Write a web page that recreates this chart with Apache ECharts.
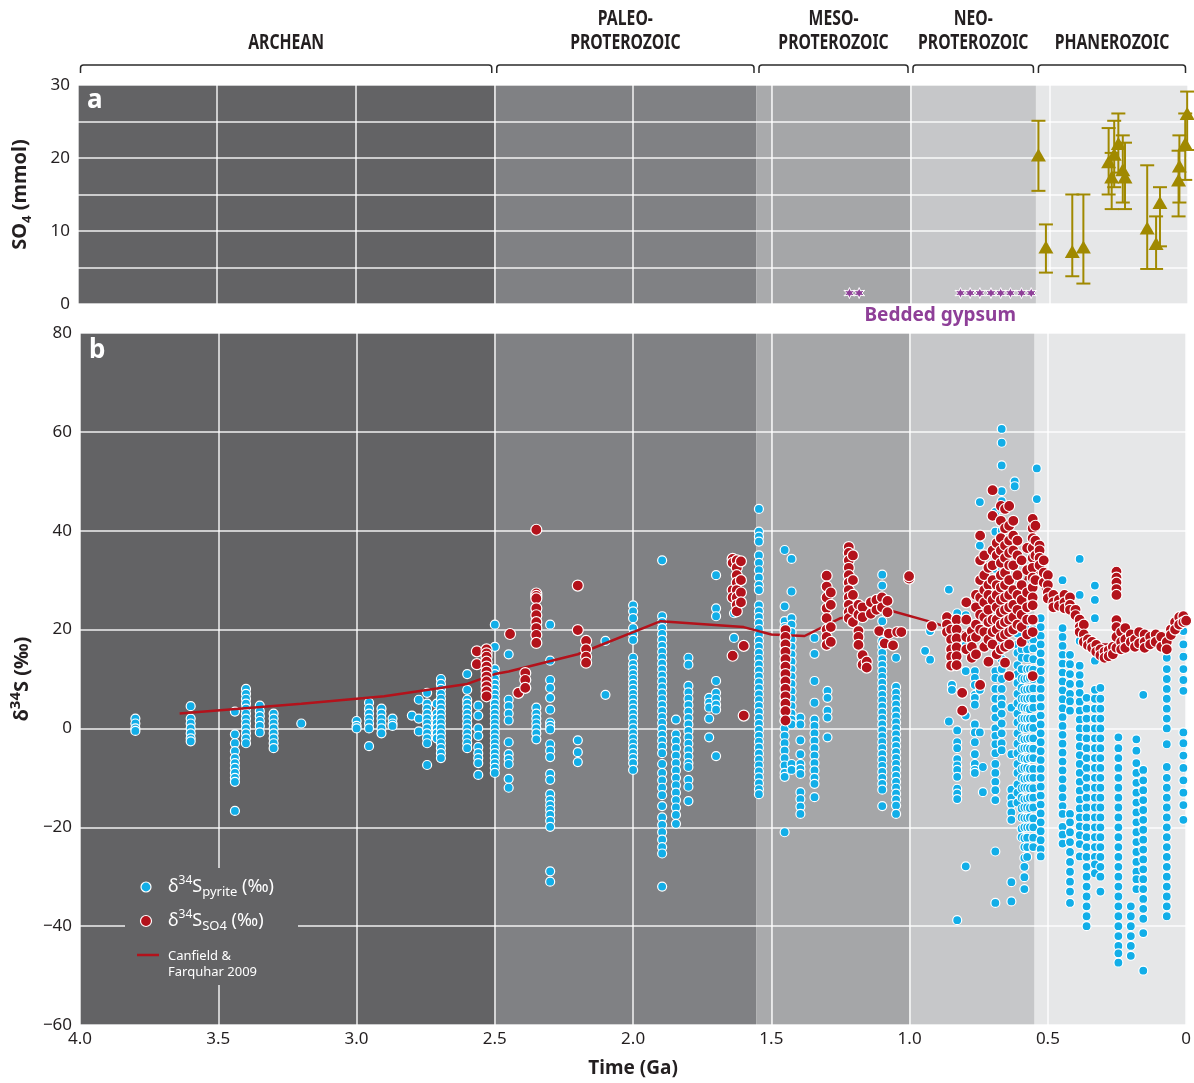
<!DOCTYPE html>
<html>
<head>
<meta charset="utf-8">
<script src="https://cdn.jsdelivr.net/npm/echarts@6/dist/echarts.min.js"></script>
<style>
html,body{margin:0;padding:0;background:#fff}
#chart{width:1194px;height:1083px}
</style>
</head>
<body>
<div id="chart"></div>
<script>
// era bands (Ga) and the brackets on top
var bandStart = [4.0, 2.5, 1.555, 1.5, 1.0, 0.548];
var bandEnd   = [2.5, 1.555, 1.5, 1.0, 0.548, 0];
var bandColors = ['#636365', '#808184', '#a9aaac', '#a5a6a8', '#c6c7c9', '#e6e7e8'];
var eraNames = ['ARCHEAN', 'PALEO-\nPROTEROZOIC', 'MESO-\nPROTEROZOIC', 'NEO-\nPROTEROZOIC', 'PHANEROZOIC'];
var eraStart = [4.0, 2.5, 1.555, 1.0, 0.548];
var eraEnd   = [2.5, 1.555, 1.0, 0.548, 0];

// panel a: seawater sulfate (mmol) with error bars
var so4Age  = [0.539, 0.512, 0.417, 0.377, 0.286, 0.275, 0.266, 0.251, 0.235, 0.227, 0.147, 0.115, 0.101, 0.034, 0.031, 0.010, 0.003];
var so4Mean = [20.4, 7.8, 7.2, 7.8, 19.5, 17.4, 20.5, 22.0, 18.4, 17.4, 10.4, 8.3, 13.9, 17.0, 18.9, 22.0, 26.1];
var so4Low  = [15.5, 4.3, 3.8, 2.8, 15.0, 13.0, 16.0, 18.0, 13.9, 13.0, 4.8, 4.8, 7.9, 12.0, 13.9, 17.0, 21.1];
var so4High = [25.1, 10.9, 15.0, 15.0, 24.1, 20.7, 25.1, 26.1, 23.1, 22.1, 19.0, 12.0, 16.0, 21.0, 23.1, 26.1, 29.1];

// bedded gypsum occurrences (Ga)
var gypsumAge = [1.22, 1.185, 0.82, 0.785, 0.75, 0.71, 0.675, 0.64, 0.60, 0.565];

// panel b: d34S pyrite, columns of [age, values...]
var pyriteCols = [
  [3.80, 2, 1, 0, -0.5],
  [3.60, 4.5, 2, 1, 0, -1, -2, -2.6],
  [3.44, 3.4, -1.2, -3, -4.6, -6, -7, -8, -9, -10, -10.8, -16.7],
  [3.40, 8, 7, 6, 5, 4, 3, 2, 1, 0, -1, -2, -3],
  [3.35, 4.6, 3.5, 2.5, 1.5, 0.5, -0.8],
  [3.30, 3, 2, 1, 0, -1, -2, -3, -4],
  [3.20, 1],
  [3.00, 1.5, 0.5, 0],
  [2.955, 5.2, 4, 3, 2, 1, 0, -3.6],
  [2.91, 4, 3, 2, 1, 0, -1],
  [2.87, 2, 1, 0.5],
  [2.80, 2.6],
  [2.775, 5.8, 2, -0.6],
  [2.745, 7.2, 5, 4, 3, 2, 1, 0, -1, -2, -3, -7.4],
  [2.71, 5, 3, 2, 1, 0, -1, -2],
  [2.695, 10, 9, 8, 7, 6, 5, 4, 3, 2, 1, 0, -1, -2, -3, -4, -5, -6],
  [2.60, 11, 7.8, 5.8, 5, 4, 3, 2, 1, 0, -1, -2, -3, -4],
  [2.56, 4.6, 2.6, 0, -1.5, -3.8, -5, -6, -7, -9.4],
  [2.50, 21, 16.5, 12, 11, 10, 9, 8, 7, 6, 5, 4, 3, 2, 1, 0, -1, -2, -3, -4, -5, -6, -7, -8, -9],
  [2.45, 15, 5.8, 4.5, 3, 1.6, -2.8, -5.2, -6.2, -7.2, -10.2, -12],
  [2.35, 4.2, 3, 2, 1, 0, -1, -2.2],
  [2.30, 21, 13.7, 9.8, 8.2, 6.2, 3.8, 1.2, 0.5, -0.2, -3.2, -4.5, -5.8, -9.2, -10.4, -13.3, -14.5, -15.5, -16.5, -17.5, -18.7, -19.9, -28.9, -31],
  [2.20, -2.4, -4.8, -6.8],
  [2.10, 17.7, 6.8],
  [2.00, 24.9, 23.7, 22.3, 20.3, 19, 17.9, 14.3, 13, 12, 11, 10, 9, 8, 7, 6, 5, 4, 3, 2, 1, 0, -1, -2, -3, -4, -5, -6, -7, -8.4],
  [1.895, 34, 22.7, 21.5, 20.3, 19.1, 17.9, 16.7, 15.5, 14.3, 13.1, 11.9, 10.7, 9.5, 8.3, 7.1, 5.9, 4.7, 3.5, 2.3, 1.1, -0.1, -1.3, -2.5, -3.7, -5, -7.2, -9, -10.5, -12, -13.5, -15.7, -18, -19.5, -21, -22.5, -24, -25.3, -32],
  [1.845, 1.8, -1.2, -2.5, -4, -5.5, -7, -8.5, -10, -11.5, -13, -14.5, -16, -17.5, -19.3],
  [1.80, 14.3, 12.9, 8.6, 7.3, 6, 4.7, 3.4, 2.1, 0.8, -0.5, -1.8, -3.1, -4.4, -5.7, -7, -7.8, -10.4, -11.8, -14.7],
  [1.725, 6.2, 5.2, 4.2, 2, -1.8],
  [1.70, 31, 24.3, 22.7, 9.6, 7.2, 6, 4.8, 3.8, -5.6],
  [1.635, 23.3, 18.3],
  [1.545, 44.4, 39.8, 38.8, 37.8, 35, 33.5, 32, 30.5, 29, 28, 24.9, 23.7, 22.5, 21.3, 20.1, 18.9, 17.7, 16.5, 15.3, 14.1, 12.9, 11.7, 10.5, 9.3, 8.1, 6.9, 5.7, 4.5, 3.3, 2.1, 0.9, -0.3, -1.5, -2.7, -3.9, -5.1, -6.3, -7.5, -8.7, -9.9, -11.1, -12.3, -13.3],
  [1.452, 36.1, 24.7, 21.7, 20.5, 19.3, 18, 16.5, 15, 13.5, 12, 10.5, 9, 7.5, 6, 4.5, 3, 1.5, 0, -1.5, -3, -4.5, -6, -7.5, -9, -9.8, -21],
  [1.427, 34.3, 27.7, 22.3, 21, 19.5, 18, 16.5, 15, 13.5, 12, 10.5, 9, 7.5, 6, 4.5, 3, 1.8, 0.8, -7.2, -8.4],
  [1.395, 2.2, 0.8, -2.4, -5.2, -7.2, -8.2, -9.2, -12.9, -14.3, -15.8, -17.3],
  [1.344, 18.3, 15.1, 9.6, 5.2, 1.8, 0.5, -1, -2.5, -4, -5.5, -7, -8.5, -10, -11.2, -13.9],
  [1.297, 7.6, 6.2, 3.6, 2.2, -1.8],
  [1.099, 31.1, 28.9, 21.7, 17.7, 16.5, 15.3, 14, 12.8, 11.6, 10.4, 9.2, 8, 6.8, 5.6, 4.4, 3.2, 2, 0.8, -0.4, -1.6, -2.8, -4, -5.2, -6.4, -7.6, -8.8, -10, -11.2, -12.4, -15.7],
  [1.049, 14.3, 8.4, 7.2, 6, 4.8, 3.6, 2.4, 1.2, 0, -1.2, -2.4, -3.6, -4.8, -6, -7.2, -8.4, -9.6, -10.8, -12, -13.2, -14.4, -15.6, -17.3],
  [0.944, 15.7],
  [0.926, 19.7, 13.9],
  [0.858, 28.1, 1.4],
  [0.847, 8.8, 7.8],
  [0.828, 23.3, -0.4, -2.8, -4, -6.2, -7.5, -8.4, -9.8, -12.2, -13.2, -14.3, -38.8],
  [0.797, 22.9, 16.9, 11.6, 2.6, -27.9],
  [0.764, 11.6, 10.2, 8.8, 6.8, 6.2, 4.8, 0.8, -0.8, -2.8, -5.2, -7.2, -8.4, -9],
  [0.746, 45.8, 37, 8.8, 7.8, -0.8],
  [0.735, -7.8, -12.9],
  [0.69, 43.8, 39.8, 34.3, 32.3, 30.3, 11.6, 10.2, 8, 6, 4, 2.2, 0, -1.5, -3.2, -5, -7.2, -9, -10.8, -12.5, -14.5, -24.9, -35.3],
  [0.667, 60.6, 57.8, 53.2, 48, 46, 44.4, 40, 38, 36, 34, 32.3, 20, 17, 14, 12, 10, 8, 6, 4.8, 3, 1, -1, -3, -4.4],
  [0.632, 4.2, -5.2, -12.4, -14, -15.3, -17, -18.5, -31.1, -35],
  [0.62, 50, 49],
  [0.61, 21, 19.2, 17, 15.3, 12.8, 11, 9.2, 7, 5.1, 3, 1.2, -1, -3.1, -5, -7.2, -9, -11.3, -13, -15],
  [0.595, 16, 14.3, 12, 10.1, 8.2, 6, 4.3, 2, 0.2, -2, -4.1, -6, -8.2, -10, -12.1, -14, -16.2, -18, -20.3, -22],
  [0.585, 10, 7.8, 6, 4.2, 2, 0.1, -2.2, -4, -6.1, -8, -10.2, -12, -14.3, -16, -18.1, -20, -22.2, -24, -26.2, -28, -30.1, -32.5],
  [0.575, 20, 18.1, 16, 14.2, 12, 10.1, 7.9, 6, 4.1, 2, 0, -2.1, -4, -6.2, -8, -10.1, -12, -14.2, -16, -18.1, -20, -22.1, -24, -26],
  [0.565, 12, 10.2, 8, 6.1, 3.9, 2, 0.2, -2, -4.1, -6, -8.2, -10, -12.1, -14, -16.1, -18, -20],
  [0.553, 22, 20.1, 18, 16.2, 14, 11.9, 10, 8.1, 6, 4.2, 2, 0.1, -2, -4.1, -6, -8.2, -10, -12.1, -14, -16, -18.2, -20, -22.1, -24],
  [0.54, 52.6, 46.4],
  [0.526, 22.3, 20.5, 18.7, 17, 15.2, 13.4, 11.6, 9.8, 8, 6.2, 4.4, 2.6, 0.8, -1, -2.8, -4.6, -6.4, -8.2, -10, -11.8, -13.6, -15.4, -17.2, -19, -20.8, -22.6, -24.4, -25.9],
  [0.447, 30, 20.3, 18.5, 16.7, 14.9, 13.1, 11.3, 9.5, 7.7, 5.9, 4.1, 2.3, 0.5, -1.3, -3.1, -4.9, -6.7, -8.5, -10.3, -12.1, -13.9, -15.7, -17.3, -19.9, -21.5, -23.3],
  [0.42, 14.9, 13, 11, 9, 7, 5.5, 3.6, -17.3, -19, -21, -23, -25, -27, -29, -31, -33, -35.3],
  [0.385, 34.3, 27, 17.7, 12.7, 10.8, 9, 7.2, 5.4, 3.6, 1.8, 0, -1.8, -3.6, -5.4, -7.2, -9, -10.8, -12.6, -14.4, -16.2, -18, -19.8, -21.6, -23.4, -25.9],
  [0.36, 6.2, 4, 2, 0, -2, -4, -6, -8, -10, -12, -14, -16, -18, -20, -22, -24, -26, -28, -30, -32, -34, -36, -38, -40],
  [0.33, 28.9, 26, 22.3, 13.7, 7.8, 6, 4, 2, 0, -2, -4, -6, -8, -10, -12, -14, -16, -18, -20, -22, -24, -26, -27.5, -29.3],
  [0.31, 8.2, 6, 4, 2, 0, -2, -4, -6, -8, -10, -12, -14, -16, -18, -20, -22, -24, -26, -28, -30, -33],
  [0.245, -1.8, -4, -6, -8, -10, -12, -14, -16, -18, -20, -22, -24, -26, -28, -30, -32, -34, -36, -38, -40, -42, -44, -45.5, -47.4],
  [0.20, -36, -38, -40, -42, -44, -46],
  [0.18, -2.2, -4.5, -7, -9, -11, -13, -15, -17, -19, -21, -23, -25, -27, -29, -30.5, -32.5],
  [0.155, 6.8, -8.4, -10.5, -12.5, -14.5, -16.5, -18.5, -20.5, -22.5, -24.5, -26.5, -28.5, -30.5, -32.5, -34.5, -36.5, -38.5, -41.4, -49],
  [0.07, 14.3, 12, 10, 8, 6, 4, 2, 0, -3.2, -7.8, -10, -12, -14, -16, -18, -20, -22, -24, -26, -28, -30, -32, -34, -36, -38],
  [0.01, 19.7, 17, 14.5, 12, 9.8, 7.6, -0.8, -3, -5.5, -8, -10.5, -13, -15.5, -18.5]
];

// panel b: d34S sulfate, columns of [age, values...]
var sulfateCols = [
  [2.565, 13, 15.6],
  [2.53, 16, 15.2, 14.5, 13.5, 12.5, 11.5, 10.5, 9.5, 8.5, 7.5, 6.5],
  [2.445, 19.1],
  [2.415, 7.2],
  [2.39, 11.2, 9.8, 8.2],
  [2.35, 40.2, 27.3, 26.8, 26.3, 24.3, 22.9, 21.5, 20.3, 18.9, 17.3],
  [2.20, 28.9, 19.9],
  [2.17, 17.7, 16, 14.5, 13.3],
  [1.64, 34.3, 33.5, 28, 26.5, 14.7],
  [1.625, 34, 32.5, 31, 29.5, 28, 26.5, 25, 23.7],
  [1.61, 33.8, 30, 27.5, 25.5],
  [1.60, 16.7, 2.6],
  [1.449, 19.9, 18.5, 17, 15.5, 14, 12.5, 11, 9.5, 8, 6.5, 5, 3.5, 1.6],
  [1.30, 30.9, 28.7, 26.5, 24.3, 22.3, 20, 18.5, 16.9],
  [1.285, 27.5, 25, 20.5, 17.5],
  [1.22, 36.7, 35.5, 34, 32.5, 31, 29.5, 28, 26.5, 25, 23.5, 22.3],
  [1.205, 35, 30, 27, 24, 21.5],
  [1.185, 25, 23, 19.7, 18.5, 16.9],
  [1.17, 24.5, 22.5, 14.8, 12.9],
  [1.155, 13.5, 12.3],
  [1.14, 25.5, 23.2],
  [1.12, 26, 24],
  [1.11, 19.7],
  [1.10, 26.5, 24.5],
  [1.09, 17.2],
  [1.08, 25.8, 23.5],
  [1.075, 19.2],
  [1.06, 16.8],
  [1.045, 19.5],
  [1.03, 19.5],
  [1.002, 30.3, 30.8],
  [0.92, 20.7],
  [0.865, 22.5, 21, 19.5],
  [0.85, 20, 18, 16, 14.5, 12.7],
  [0.83, 22, 20, 18.2, 16.4, 14.6, 12.8],
  [0.81, 7.2, 3.6],
  [0.795, 25.5, 22, 18.5, 16],
  [0.775, 19.7, 18, 16.5, 14.3],
  [0.76, 27, 24.5, 21, 18.5, 15],
  [0.745, 39, 34, 30, 26.5, 23, 20, 8.8],
  [0.73, 35, 31, 28, 25.5, 22.5, 19.5, 16.5],
  [0.715, 32.5, 29, 27, 24, 21.5, 18, 13.5],
  [0.70, 48.2, 43, 36, 33, 30, 26, 22, 19.5, 17],
  [0.685, 37.5, 35, 29, 27, 24.5, 22, 20, 15],
  [0.67, 45, 42, 38.5, 36, 33.5, 31, 28.5, 26, 23.5, 21, 18.5, 16],
  [0.655, 44.4, 40.5, 37, 34.5, 31.5, 29, 26.5, 24, 21.5, 19, 16.5, 13.3],
  [0.64, 45, 41, 38, 35.5, 33, 30, 27, 24.5, 22, 19.5, 17, 10.6],
  [0.625, 42, 39, 36, 33, 28, 25, 22.5, 20],
  [0.61, 38, 35, 31, 27, 24, 21],
  [0.595, 34, 29, 26, 23, 20.5, 17.5],
  [0.575, 36.5, 32, 27.5, 24.5, 22, 19],
  [0.555, 42.4, 40.5, 38.5, 36.5, 34.5, 32.5, 30.5, 28.5, 26.5, 24.9, 22, 19.5, 10.6],
  [0.545, 41, 38, 35, 30],
  [0.53, 37, 36, 34.5, 33],
  [0.515, 34, 31.5, 29.5],
  [0.50, 31, 29, 27.5, 26.3],
  [0.48, 27, 25.5, 24.5],
  [0.46, 26, 24.8],
  [0.44, 27, 25.5, 24.3],
  [0.42, 26.5, 25, 24],
  [0.40, 24, 22.9],
  [0.385, 22, 20.5, 19.5],
  [0.37, 21, 19, 17.5],
  [0.355, 18, 16.8],
  [0.34, 17.5, 16.3],
  [0.325, 16.9, 15.5],
  [0.31, 16, 14.8],
  [0.295, 15.5, 14.3],
  [0.28, 15.8, 14.6],
  [0.265, 16.5, 15],
  [0.252, 31.7, 30.5, 29.5, 28.2, 27, 21.9, 20.5, 18.5, 16.3],
  [0.235, 19.5, 17.5, 16],
  [0.22, 20.3, 18, 16.3],
  [0.20, 19, 17.5],
  [0.185, 18, 16.5],
  [0.17, 19.5, 17.2],
  [0.15, 19, 17.5, 16.3],
  [0.13, 18.5, 17],
  [0.11, 19, 17.5],
  [0.09, 18.5, 16.5],
  [0.07, 17.5, 16],
  [0.055, 20, 18.9],
  [0.04, 21.5, 20],
  [0.025, 22.5, 21],
  [0.01, 22.7, 21.5],
  [0.0, 21.8]
];

// Canfield & Farquhar 2009 curve
var curveAge = [3.64, 3.2, 2.9, 2.6, 2.5, 2.45, 2.2, 1.9, 1.6, 1.5, 1.38, 1.25, 1.08, 0.92, 0.77, 0.63, 0.55, 0.54, 0.48, 0.45, 0.39, 0.34, 0.28, 0.26, 0.22, 0.17, 0.08, 0.04, 0];
var curveVal = [3, 5, 6.5, 9, 11, 11.5, 15, 21.7, 20.5, 19, 18.7, 22.3, 24, 21.5, 18.7, 24, 34, 31, 24, 26, 22, 17, 17, 15.5, 16, 19, 17.5, 21, 22];

var xTicks = [4.0, 3.5, 3.0, 2.5, 2.0, 1.5, 1.0, 0.5, 0];

var olive = '#a08900';
var blue = '#12aee8';
var red = '#b3121b';
var purple = '#8e3f98';
var ink = '#231f20';
var tickFont = 'Noto Sans';

function flatten(cols) {
  var out = [];
  cols.forEach(function (c) {
    for (var i = 1; i < c.length; i++) out.push([c[0], c[i]]);
  });
  return out;
}

function starSymbol() {
  var d = '';
  for (var i = 0; i < 12; i++) {
    var r = i % 2 === 0 ? 1 : 0.45;
    var a = Math.PI / 6 * i - Math.PI / 2;
    d += (i ? 'L' : 'M') + (r * Math.cos(a)).toFixed(3) + ' ' + (r * Math.sin(a)).toFixed(3) + ' ';
  }
  return 'path://' + d + 'Z';
}

var bandData = bandStart.map(function (s, i) { return [s, bandEnd[i], i]; });
var eraData = eraStart.map(function (s, i) { return [s, eraEnd[i], i]; });

function renderBand(params, api) {
  var cs = params.coordSys;
  var x0 = api.coord([api.value(0), 0])[0];
  var x1 = api.coord([api.value(1), 0])[0];
  return {
    type: 'rect',
    shape: { x: x0, y: cs.y, width: x1 - x0, height: cs.height },
    style: { fill: bandColors[api.value(2)] }
  };
}

// bracket + condensed bold label above each era
function renderBracket(params, api) {
  var cs = params.coordSys;
  var x0 = api.coord([api.value(0), 0])[0] + 2.5;
  var x1 = api.coord([api.value(1), 0])[0] - 2.5;
  var y = cs.y - 20, h = 8, r = 3;
  var d = 'M' + x0 + ' ' + (y + h) + ' L' + x0 + ' ' + (y + r) + ' Q' + x0 + ' ' + y + ' ' + (x0 + r) + ' ' + y +
          ' L' + (x1 - r) + ' ' + y + ' Q' + x1 + ' ' + y + ' ' + x1 + ' ' + (y + r) + ' L' + x1 + ' ' + (y + h);
  return {
    type: 'group',
    children: [
      { type: 'path', shape: { pathData: d }, style: { fill: null, stroke: '#2b2b2b', lineWidth: 1.5 } },
      { type: 'text', x: (x0 + x1) / 2, y: y - 10, scaleX: 0.75,
        style: {
          text: eraNames[api.value(2)], x: 0, y: 0,
          align: 'center', verticalAlign: 'bottom',
          fontFamily: tickFont, fontWeight: 'bold', fontSize: 21, lineHeight: 24, fill: ink
        } }
    ]
  };
}

function renderErr(params, api) {
  var p0 = api.coord([api.value(0), api.value(1)]);
  var p1 = api.coord([api.value(0), api.value(2)]);
  var w = 7;
  var st = { stroke: olive, lineWidth: 2 };
  return {
    type: 'group',
    children: [
      { type: 'line', shape: { x1: p0[0], y1: p0[1], x2: p1[0], y2: p1[1] }, style: st },
      { type: 'line', shape: { x1: p0[0] - w, y1: p0[1], x2: p0[0] + w, y2: p0[1] }, style: st },
      { type: 'line', shape: { x1: p1[0] - w, y1: p1[1], x2: p1[0] + w, y2: p1[1] }, style: st }
    ]
  };
}

var gridLine = { show: true, lineStyle: { color: 'rgba(255,255,255,0.9)', width: 1.5 } };

var chart = echarts.init(document.getElementById('chart'), null, { renderer: 'canvas' });
chart.setOption({
  backgroundColor: '#ffffff',
  animation: false,
  textStyle: { fontFamily: tickFont },
  grid: [
    { left: 78, top: 85, width: 1110, height: 219 },
    { left: 78, top: 333, width: 1110, height: 697 }
  ],
  xAxis: [{
    gridIndex: 0, type: 'value', min: 0, max: 4, interval: 0.5, inverse: true,
    axisLine: { show: false }, axisTick: { show: false }, axisLabel: { show: false },
    splitLine: gridLine
  }, {
    gridIndex: 1, type: 'value', min: 0, max: 4, interval: 0.5, inverse: true,
    axisLine: { show: false }, axisTick: { show: false },
    axisLabel: {
      color: ink, fontSize: 17, margin: 6, fontFamily: tickFont,
      formatter: function (v) { return xTicks.indexOf(v) < 0 ? '' : (v === 0 ? '0' : v.toFixed(1)); }
    },
    splitLine: gridLine,
    name: 'Time (Ga)', nameLocation: 'middle', nameGap: 34,
    nameTextStyle: { color: ink, fontSize: 19, fontWeight: 'bold', fontFamily: tickFont }
  }],
  yAxis: [{
    gridIndex: 0, type: 'value', min: 0, max: 30, interval: 5,
    axisLine: { show: false }, axisTick: { show: false },
    axisLabel: {
      color: ink, fontSize: 17, margin: 8, fontFamily: tickFont,
      formatter: function (v) { return v % 10 === 0 ? String(v) : ''; }
    },
    splitLine: gridLine,
    name: 'SO{sub|4} (mmol)', nameLocation: 'middle', nameRotate: 90, nameGap: 44,
    nameTextStyle: {
      color: ink, fontSize: 20, fontWeight: 'bold', fontFamily: tickFont,
      rich: { sub: { fontSize: 13, fontWeight: 'bold', fontFamily: tickFont, color: ink, verticalAlign: 'bottom', lineHeight: 28 } }
    }
  }, {
    gridIndex: 1, type: 'value', min: -60, max: 80, interval: 20,
    axisLine: { show: false }, axisTick: { show: false },
    axisLabel: {
      color: ink, fontSize: 17, margin: 8, fontFamily: tickFont,
      formatter: function (v) { return v < 0 ? '\u2212' + Math.abs(v) : String(v); }
    },
    splitLine: gridLine,
    name: '\u03b4{sup|34}S (\u2030)', nameLocation: 'middle', nameRotate: 90, nameGap: 44,
    nameTextStyle: {
      color: ink, fontSize: 20, fontWeight: 'bold', fontFamily: tickFont,
      rich: { sup: { fontSize: 15, fontWeight: 'bold', fontFamily: tickFont, color: ink, verticalAlign: 'top', lineHeight: 28 } }
    }
  }],
  series: [
    { type: 'custom', name: 'bandsA', xAxisIndex: 0, yAxisIndex: 0, z: -10, silent: true,
      renderItem: renderBand, data: bandData },
    { type: 'custom', name: 'bandsB', xAxisIndex: 1, yAxisIndex: 1, z: -10, silent: true,
      renderItem: renderBand, data: bandData },
    { type: 'custom', name: 'eras', xAxisIndex: 0, yAxisIndex: 0, clip: false, silent: true, z: 5,
      renderItem: renderBracket, data: eraData },
    { type: 'custom', name: 'errors', xAxisIndex: 0, yAxisIndex: 0, z: 3, clip: false,
      renderItem: renderErr, encode: { x: 0, y: [1, 2] },
      data: so4Age.map(function (a, i) { return [a, so4Low[i], so4High[i]]; }) },
    { type: 'scatter', name: 'SO4', xAxisIndex: 0, yAxisIndex: 0, z: 4,
      symbol: 'triangle', symbolSize: [15, 13],
      itemStyle: { color: olive, opacity: 1 },
      data: so4Age.map(function (a, i) { return [a, so4Mean[i]]; }) },
    { type: 'scatter', name: 'gypsum', xAxisIndex: 0, yAxisIndex: 0, z: 4,
      symbol: starSymbol(), symbolSize: 11,
      itemStyle: { color: purple, borderColor: '#ffffff', borderWidth: 1, opacity: 1 },
      data: gypsumAge.map(function (a) { return [a, 1.5]; }) },
    { type: 'scatter', name: 'pyrite', xAxisIndex: 1, yAxisIndex: 1, z: 3,
      symbolSize: 9,
      itemStyle: { color: blue, borderColor: '#ffffff', borderWidth: 1.2, opacity: 1 },
      data: flatten(pyriteCols) },
    { type: 'line', name: 'Canfield', xAxisIndex: 1, yAxisIndex: 1, z: 4,
      symbol: 'none', lineStyle: { color: red, width: 2.5 },
      data: curveAge.map(function (a, i) { return [a, curveVal[i]]; }) },
    { type: 'scatter', name: 'sulfate', xAxisIndex: 1, yAxisIndex: 1, z: 5,
      symbolSize: 11,
      itemStyle: { color: red, borderColor: '#ffffff', borderWidth: 1.2, opacity: 1 },
      data: flatten(sulfateCols) }
  ]
});

// annotations placed from the axes
var gyp = chart.convertToPixel({ xAxisIndex: 0, yAxisIndex: 0 }, [0.893, 0]);
var aTop = chart.convertToPixel({ xAxisIndex: 0, yAxisIndex: 0 }, [4, 30]);
var bTop = chart.convertToPixel({ xAxisIndex: 1, yAxisIndex: 1 }, [4, 80]);
var legendFont = '"Noto Sans", sans-serif';
var legRich = {
  sup: { fontSize: 12, color: '#ffffff', verticalAlign: 'top', lineHeight: 24, fontFamily: legendFont },
  sub: { fontSize: 13, color: '#ffffff', verticalAlign: 'bottom', lineHeight: 24, fontFamily: legendFont }
};

chart.setOption({
  graphic: [
    { type: 'text', z: 10, x: gyp[0], y: gyp[1] + 12,
      style: { text: 'Bedded gypsum', align: 'center', verticalAlign: 'middle',
               fontFamily: legendFont, fontWeight: 'bold', fontSize: 19, fill: purple } },
    { type: 'text', z: 10, x: aTop[0] + 9, y: aTop[1] + 3,
      style: { text: 'a', fontFamily: legendFont, fontWeight: 'bold', fontSize: 26, fill: '#ffffff' } },
    { type: 'text', z: 10, x: bTop[0] + 9, y: bTop[1] + 5,
      style: { text: 'b', fontFamily: legendFont, fontWeight: 'bold', fontSize: 26, fill: '#ffffff' } },
    { type: 'group', z: 10, children: [
      { type: 'rect', shape: { x: 125, y: 868, width: 173, height: 117 }, style: { fill: bandColors[0] } },
      { type: 'circle', shape: { cx: 146, cy: 887, r: 5 }, style: { fill: blue, stroke: '#fff', lineWidth: 1.2 } },
      { type: 'circle', shape: { cx: 146, cy: 921, r: 5.5 }, style: { fill: red, stroke: '#fff', lineWidth: 1.2 } },
      { type: 'line', shape: { x1: 137, y1: 955, x2: 159, y2: 955 }, style: { stroke: red, lineWidth: 2.5 } },
      { type: 'text', x: 168, y: 887, style: {
          text: '\u03b4{sup|34}S{sub|pyrite} (\u2030)', verticalAlign: 'middle',
          fontFamily: legendFont, fontSize: 18, fill: '#ffffff', lineHeight: 24, rich: legRich } },
      { type: 'text', x: 168, y: 921, style: {
          text: '\u03b4{sup|34}S{sub|SO4} (\u2030)', verticalAlign: 'middle',
          fontFamily: legendFont, fontSize: 18, fill: '#ffffff', lineHeight: 24, rich: legRich } },
      { type: 'text', x: 168, y: 964, style: {
          text: 'Canfield &\nFarquhar 2009', verticalAlign: 'middle',
          fontFamily: legendFont, fontSize: 13, fill: '#ffffff', lineHeight: 16 } }
    ] }
  ]
});
</script>
</body>
</html>
